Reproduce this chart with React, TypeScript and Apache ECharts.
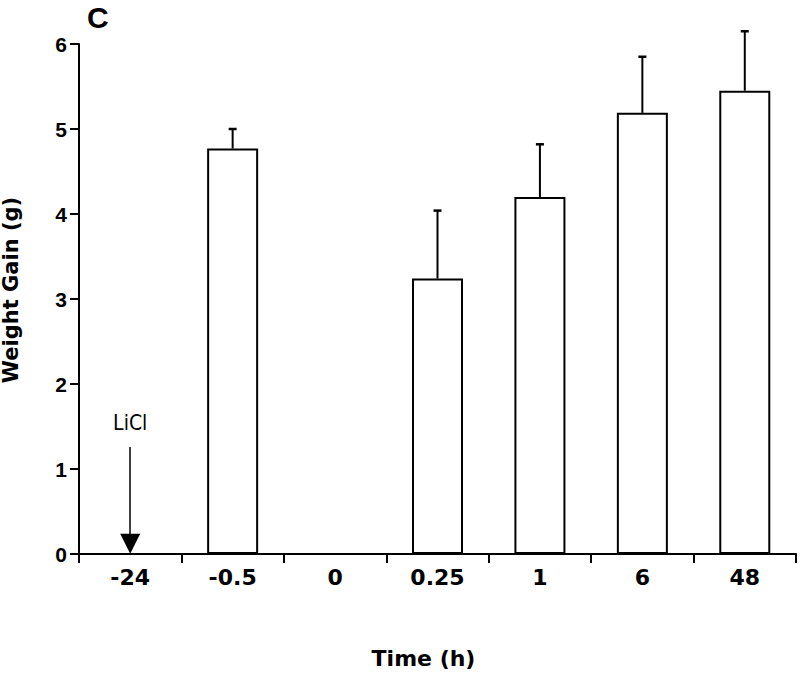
import React, { useEffect, useRef } from "react";
import * as echarts from "echarts";

const categories = ["-24", "-0.5", "0", "0.25", "1", "6", "48"];
const means: (number | null)[] = [null, 4.77, null, 3.24, 4.2, 5.19, 5.45];
const errors: (number | null)[] = [null, 0.23, null, 0.8, 0.62, 0.66, 0.7];
const yTicks = [0, 1, 2, 3, 4, 5, 6];

const arrowCategory = "-24";
const arrowFrom = 1.26;
const arrowTo = 0.12;
const arrowLabel = "LiCl";

const panelLabel = "C";
const xName = "Time (h)";
const yName = "Weight Gain (g)";

export default function App() {
  const ref = useRef<HTMLDivElement>(null);
  useEffect(() => {
    if (!ref.current) return;
    const chart = echarts.init(ref.current, null, { renderer: "svg" });
    const errData = means
      .map((m, i) => (m == null || errors[i] == null ? null : [i, m, m + (errors[i] as number)]))
      .filter((d) => d != null);
    const boldSans = "'DejaVu Sans', sans-serif";
    chart.setOption({
      animation: false,
      backgroundColor: "#fff",
      grid: {
        left: 79,
        right: 4,
        top: 44,
        bottom: 123,
        containLabel: false,
        outerBoundsMode: "none",
      },
      graphic: [
        {
          type: "text",
          x: 87,
          y: 17,
          style: {
            text: panelLabel,
            fontFamily: "'Liberation Sans', Arial, sans-serif",
            fontWeight: "bold",
            fontSize: 30,
            fill: "#000",
            textAlign: "left",
            textVerticalAlign: "middle",
          },
        },
      ],
      xAxis: {
        type: "category",
        data: categories,
        boundaryGap: true,
        axisLine: { lineStyle: { color: "#000", width: 2 } },
        axisTick: { show: true, length: 9, lineStyle: { color: "#000", width: 2 } },
        axisLabel: {
          color: "#000",
          fontFamily: boldSans,
          fontWeight: "bold",
          fontSize: 22,
          margin: 12,
        },
        name: xName,
        nameLocation: "middle",
        nameGap: 93,
        nameTextStyle: {
          color: "#000",
          fontFamily: boldSans,
          fontWeight: "bold",
          fontSize: 22,
          padding: [0, 28, 0, 0],
        },
        splitLine: { show: false },
      },
      yAxis: {
        type: "value",
        min: yTicks[0],
        max: yTicks[yTicks.length - 1],
        interval: 1,
        axisLine: { show: true, lineStyle: { color: "#000", width: 2 } },
        axisTick: { show: true, length: 9, lineStyle: { color: "#000", width: 2 } },
        axisLabel: {
          color: "#000",
          fontFamily: "'Liberation Sans', Arial, sans-serif",
          fontWeight: "bold",
          fontSize: 21,
          margin: 12,
        },
        splitLine: { show: false },
        name: yName,
        nameLocation: "middle",
        nameGap: 58,
        nameRotate: 90,
        nameTextStyle: {
          color: "#000",
          fontFamily: boldSans,
          fontWeight: "bold",
          fontSize: 21,
          padding: [0, 0, 0, 18],
        },
      },
      series: [
        {
          type: "bar",
          data: means.map((v) => (v == null ? "-" : v)),
          barWidth: 51,
          itemStyle: { color: "#fff", borderColor: "#000", borderWidth: 2 },
          markLine: {
            silent: true,
            symbol: ["none", "triangle"],
            symbolSize: 20,
            lineStyle: { color: "#000", width: 1.5, type: "solid" },
            label: {
              show: true,
              position: "start",
              formatter: arrowLabel,
              color: "#000",
              fontFamily: "'DejaVu Sans Condensed', 'Liberation Sans', Arial, sans-serif",
              fontSize: 21,
              distance: 13,
            },
            data: [[{ coord: [arrowCategory, arrowFrom] }, { coord: [arrowCategory, arrowTo] }]],
          },
        },
        {
          type: "custom",
          data: errData,
          clip: false,
          z: 3,
          renderItem: (params: any, api: any) => {
            const x = api.value(0);
            const base = api.coord([x, api.value(1)]);
            const top = api.coord([x, api.value(2)]);
            return {
              type: "group",
              children: [
                {
                  type: "line",
                  shape: { x1: base[0], y1: base[1], x2: top[0], y2: top[1] },
                  style: { stroke: "#000", lineWidth: 2 },
                },
                {
                  type: "line",
                  shape: { x1: top[0] - 4, y1: top[1], x2: top[0] + 4, y2: top[1] },
                  style: { stroke: "#000", lineWidth: 2.5 },
                },
              ],
            };
          },
        },
      ],
    });
    return () => chart.dispose();
  }, []);
  return (
    <div
      ref={ref}
      style={{ position: "fixed", left: 0, top: 0, width: 800, height: 677, background: "#fff" }}
    />
  );
}
